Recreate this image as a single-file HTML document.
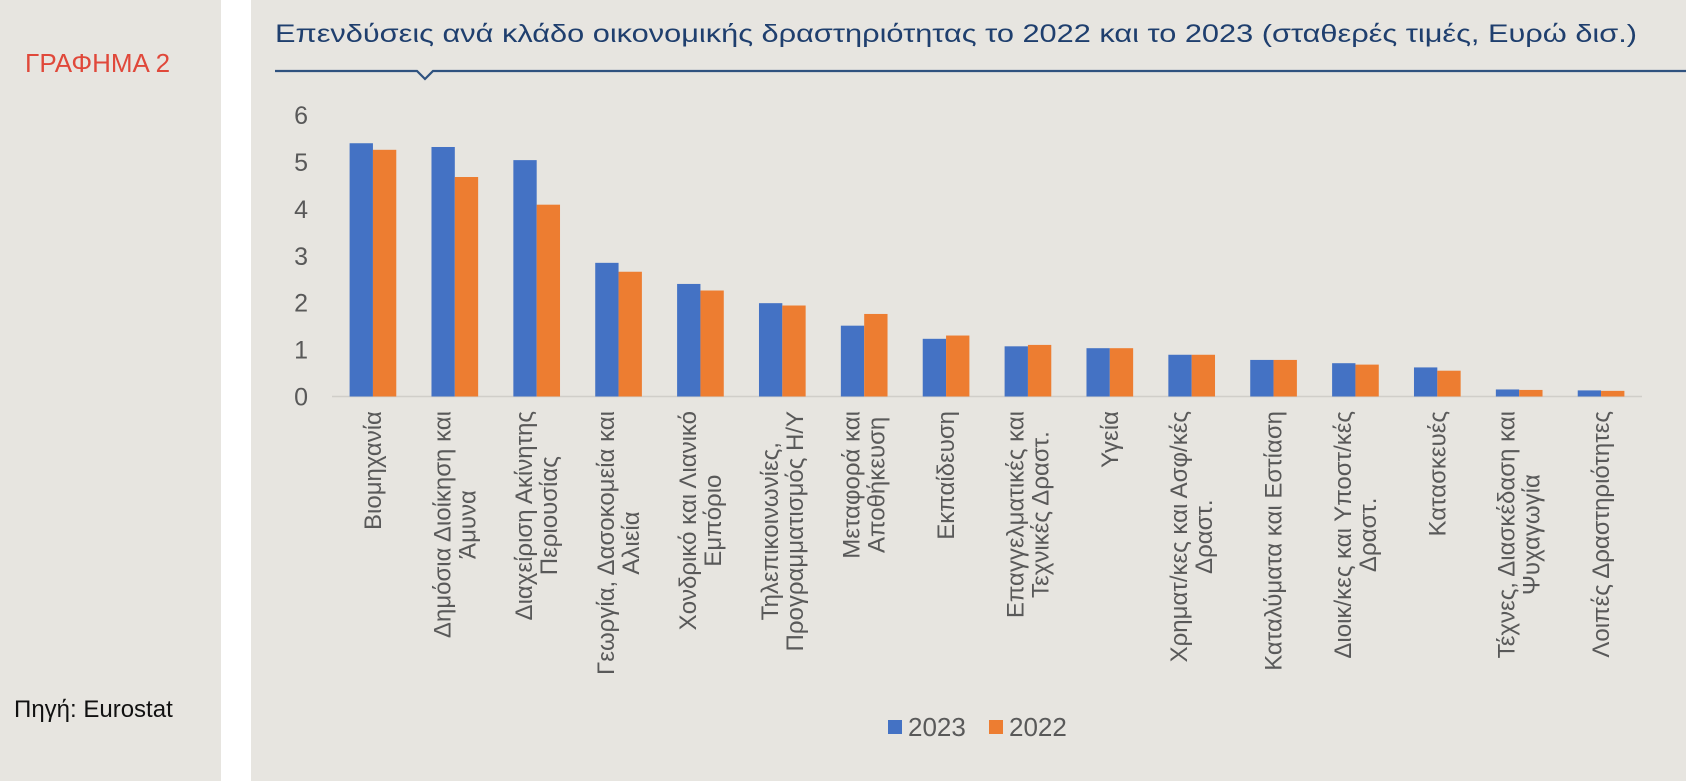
<!DOCTYPE html>
<html><head><meta charset="utf-8">
<style>
html,body{margin:0;padding:0;background:#fff;}
svg{display:block;font-family:"Liberation Sans",Arial,sans-serif;}
</style></head>
<body>
<svg id="chart" width="1686" height="781" viewBox="0 0 1686 781" xmlns="http://www.w3.org/2000/svg">
  <rect x="0" y="0" width="1686" height="781" fill="#ffffff"/>
  <rect x="0" y="0" width="221" height="781" fill="#e7e5e0"/>
  <rect x="251" y="0" width="1435" height="781" fill="#e7e5e0"/>
  <text x="25" y="72" font-size="26" fill="#e0483a">ΓΡΑΦΗΜΑ 2</text>
  <text x="14" y="717" font-size="24" fill="#111">Πηγή: Eurostat</text>
  <text x="275" y="42" font-size="25" fill="#1f3f6e" textLength="1362" lengthAdjust="spacingAndGlyphs">Επενδύσεις ανά κλάδο οικονομικής δραστηριότητας το 2022 και το 2023 (σταθερές τιμές, Ευρώ δισ.)</text>
  <polyline points="275,71 417,71 425,79 433,71 1686,71" fill="none" stroke="#2f527f" stroke-width="2.2"/>
  <g id="yaxis"></g>
  <line x1="332" y1="396.5" x2="1642" y2="396.5" stroke="#d0cec9" stroke-width="1.5"/>
  <g id="bars"></g>
  <g id="xlabels"></g>
  <g>
    <rect x="888" y="720" width="14" height="14" fill="#4472c4"/>
    <text x="908" y="736" font-size="26" fill="#595959">2023</text>
    <rect x="989" y="720" width="14" height="14" fill="#ed7d31"/>
    <text x="1009" y="736" font-size="26" fill="#595959">2022</text>
  </g>
</svg>
<script>
const categories = [
  ["Βιομηχανία"],
  ["Δημόσια Διοίκηση και","Άμυνα"],
  ["Διαχείριση Ακίνητης","Περιουσίας"],
  ["Γεωργία, Δασοκομεία και","Αλιεία"],
  ["Χονδρικό και Λιανικό","Εμπόριο"],
  ["Τηλεπικοινωνίες,","Προγραμματισμός Η/Υ"],
  ["Μεταφορά και","Αποθήκευση"],
  ["Εκπαίδευση"],
  ["Επαγγελματικές και","Τεχνικές Δραστ."],
  ["Υγεία"],
  ["Χρηματ/κες και Ασφ/κές","Δραστ."],
  ["Καταλύματα και Εστίαση"],
  ["Διοικ/κες και Υποστ/κές","Δραστ."],
  ["Κατασκευές"],
  ["Τέχνες, Διασκέδαση και","Ψυχαγωγία"],
  ["Λοιπές Δραστηριότητες"]
];
const values2023 = [5.40,5.32,5.04,2.85,2.40,1.99,1.51,1.23,1.07,1.03,0.89,0.78,0.71,0.62,0.15,0.13];
const values2022 = [5.26,4.68,4.09,2.66,2.26,1.94,1.76,1.30,1.10,1.03,0.89,0.78,0.68,0.55,0.14,0.12];
const yTicks = [0,1,2,3,4,5,6];

const NS = "http://www.w3.org/2000/svg";
const plotL = 332, plotR = 1642, y0 = 396.5, unit = 46.9;
const band = (plotR - plotL) / categories.length;
const barW = band * 0.285;
function yScale(v){ return y0 - v * unit; }
function xCenter(i){ return plotL + band * (i + 0.5); }
function mk(tag, attrs, parent){ const e = document.createElementNS(NS, tag); for (const k in attrs) e.setAttribute(k, attrs[k]); parent.appendChild(e); return e; }

const yaxis = document.getElementById('yaxis');
yTicks.forEach(t => {
  const el = mk('text', {x: 308, y: yScale(t) + 9, 'font-size': 25, fill: '#595959', 'text-anchor': 'end'}, yaxis);
  
  
  el.textContent = t;
});

const bars = document.getElementById('bars');
categories.forEach((c, i) => {
  const cx = xCenter(i);
  const b1 = mk('rect', {x: cx - barW, y: yScale(values2023[i]), width: barW, height: values2023[i] * unit, fill: '#4472c4'}, bars);
  
  
  const b2 = mk('rect', {x: cx, y: yScale(values2022[i]), width: barW, height: values2022[i] * unit, fill: '#ed7d31'}, bars);
  
  
});

const xl = document.getElementById('xlabels');
categories.forEach((lines, i) => {
  const cx = xCenter(i);
  const n = lines.length;
  const t = mk('text', {transform: 'translate(' + cx + ',411) rotate(-90)', 'font-size': 24, fill: '#595959', 'text-anchor': 'middle'}, xl);
  
  
  const lh = 25;
  lines.forEach((ln, j) => {
    const ts = mk('tspan', {x: 0, y: (j - (n - 1) / 2) * lh + 8}, t);
    ts.textContent = ln;
  });
  const bb = t.getBBox();
  t.setAttribute('transform', 'translate(' + cx + ',411) rotate(-90) translate(' + (-bb.width / 2) + ',0)');
});
</script>
</body></html>
